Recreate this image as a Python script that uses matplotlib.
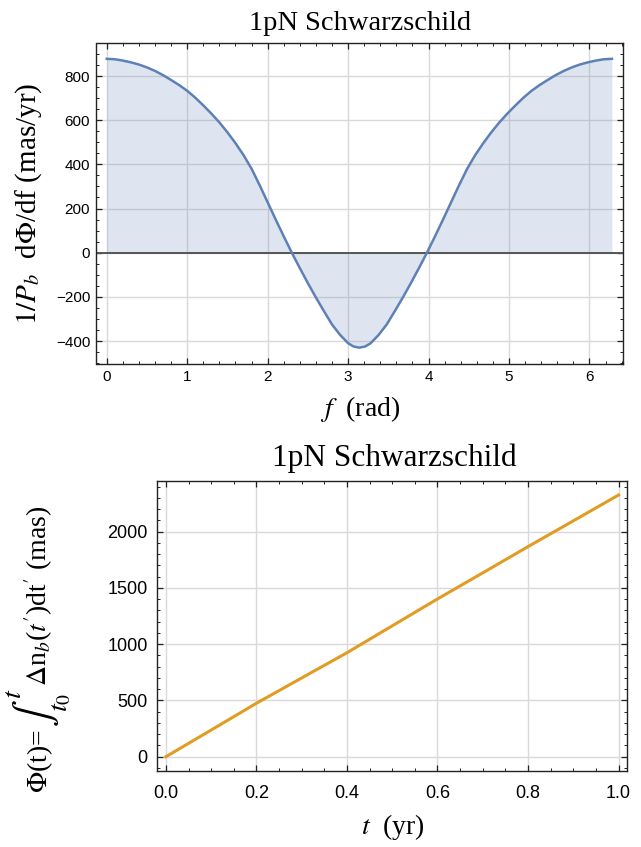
import matplotlib
matplotlib.use("Agg")
import matplotlib.pyplot as plt
from matplotlib.ticker import MultipleLocator

# values
f_rad = [0.00, 0.10, 0.20, 0.30, 0.40, 0.50, 0.60, 0.70, 0.80, 0.90, 1.00,
         1.10, 1.20, 1.30, 1.40, 1.50, 1.60, 1.70, 1.80, 1.90, 2.00, 2.10,
         2.20, 2.30, 2.40, 2.50, 2.60, 2.70, 2.80, 2.90, 3.00, 3.07, 3.14,
         3.21, 3.28, 3.38, 3.48, 3.58, 3.68, 3.78, 3.88, 3.98, 4.08, 4.18,
         4.28, 4.38, 4.48, 4.58, 4.68, 4.78, 4.88, 4.98, 5.08, 5.18, 5.28,
         5.38, 5.48, 5.58, 5.68, 5.78, 5.88, 5.98, 6.08, 6.18, 6.28]
dphi_df = [878, 876, 870, 862, 852, 839, 823, 804, 782, 759, 733,
           702, 667, 630, 590, 545, 496, 442, 380, 306, 228, 150,
           74, 0, -70, -138, -203, -265, -325, -372, -410, -425, -430,
           -425, -410, -372, -325, -265, -203, -138, -70, 0, 74, 150,
           228, 306, 380, 442, 496, 545, 590, 630, 667, 702, 733,
           759, 782, 804, 823, 839, 852, 862, 870, 876, 878]

t_yr = [0.0, 0.1, 0.2, 0.3, 0.4, 0.5, 0.6, 0.7, 0.8, 0.9, 1.0]
phi_mas = [0, 237, 475, 700, 924, 1163, 1402, 1634, 1867, 2096, 2326]

title = "1pN Schwarzschild"

plt.rcParams["mathtext.fontset"] = "stix"
serif = "Liberation Serif"
sans = "Liberation Sans"

blue = "#5E81B5"
orange = "#E19C24"
frame_col = "#222222"
grid_col = "#d9d9d9"

W, H = 641, 847
fig = plt.figure(figsize=(W / 100, H / 100), dpi=100)


def style_axes(ax, fsize, xpad, ypad):
    for s in ax.spines.values():
        s.set_color(frame_col)
        s.set_linewidth(1.0)
    ax.tick_params(which="both", direction="in", top=True, right=True,
                   color=frame_col)
    ax.tick_params(which="major", length=4.5, width=0.9)
    ax.tick_params(which="minor", length=2.5, width=0.7)
    ax.tick_params(axis="x", pad=xpad)
    ax.tick_params(axis="y", pad=ypad)
    for lab in ax.get_xticklabels() + ax.get_yticklabels():
        lab.set_fontfamily(sans)
        lab.set_fontsize(fsize)
    ax.grid(True, which="major", color=grid_col, linewidth=1.0)
    ax.set_axisbelow(True)


# ---- top panel ----
ax1 = fig.add_axes([96.5 / W, 1 - 364 / H, (623.2 - 96.5) / W, (364 - 42.7) / H])
ax1.fill_between(f_rad, dphi_df, 0, color=blue, alpha=0.2, linewidth=0)
ax1.axhline(0, color="#555555", linewidth=1.4, zorder=2)
ax1.plot(f_rad, dphi_df, color=blue, linewidth=1.8, zorder=3)
ax1.set_xlim(-0.128, 6.42)
ax1.set_ylim(-504, 951)
ax1.xaxis.set_major_locator(MultipleLocator(1))
ax1.xaxis.set_minor_locator(MultipleLocator(0.2))
ax1.yaxis.set_major_locator(MultipleLocator(200))
ax1.yaxis.set_minor_locator(MultipleLocator(50))
style_axes(ax1, 11, 4, 4.5)

fig.text(360 / W, 1 - 23 / H, title, ha="center", va="center",
         family=serif, fontsize=20.5)
fig.text(360 / W, 1 - 409 / H, r"$f$  (rad)", ha="center", va="center",
         family=serif, fontsize=20)
fig.text(29 / W, 1 - 203.5 / H, r"$1/P_b$  d$\Phi$/df (mas/yr)", ha="center",
         va="center", rotation=90, family=serif, fontsize=21)

# ---- bottom panel ----
ax2 = fig.add_axes([157.3 / W, 1 - 771 / H, (626.7 - 157.3) / W, (771 - 480.7) / H])
ax2.plot(t_yr, phi_mas, color=orange, linewidth=2.2, zorder=3)
ax2.set_xlim(-0.019, 1.018)
ax2.set_ylim(-127, 2453)
ax2.xaxis.set_major_locator(MultipleLocator(0.2))
ax2.xaxis.set_minor_locator(MultipleLocator(0.05))
ax2.yaxis.set_major_locator(MultipleLocator(500))
ax2.yaxis.set_minor_locator(MultipleLocator(100))
ax2.xaxis.set_major_formatter(plt.FuncFormatter(lambda v, p: f"{v:.1f}"))
style_axes(ax2, 13, 10, 7)

fig.text(394 / W, 1 - 458 / H, title, ha="center", va="center",
         family=serif, fontsize=22.5)
fig.text(393 / W, 1 - 827 / H, r"$t$  (yr)", ha="center", va="center",
         family=serif, fontsize=20)

# y label of the lower panel, built from pieces so the integral sign is large
pieces = [(r"$\Phi$(t)=", 20, 0),
          (r"$\int_{t_0}^{t}$", 29, 2),
          (r"$\Delta$n$_b$($t'$)dt$'$ (mas)", 20, 2)]
base_x = 47.5 / W
y_px = 793.0
renderer = fig.canvas.get_renderer()
for txt, size, gap in pieces:
    y_px -= gap
    t = fig.text(base_x, 1 - y_px / H, txt, rotation=90, rotation_mode="anchor",
                 ha="left", va="baseline", family=serif, fontsize=size)
    y_px -= t.get_window_extent(renderer).height

fig.savefig("out.png", dpi=100)
